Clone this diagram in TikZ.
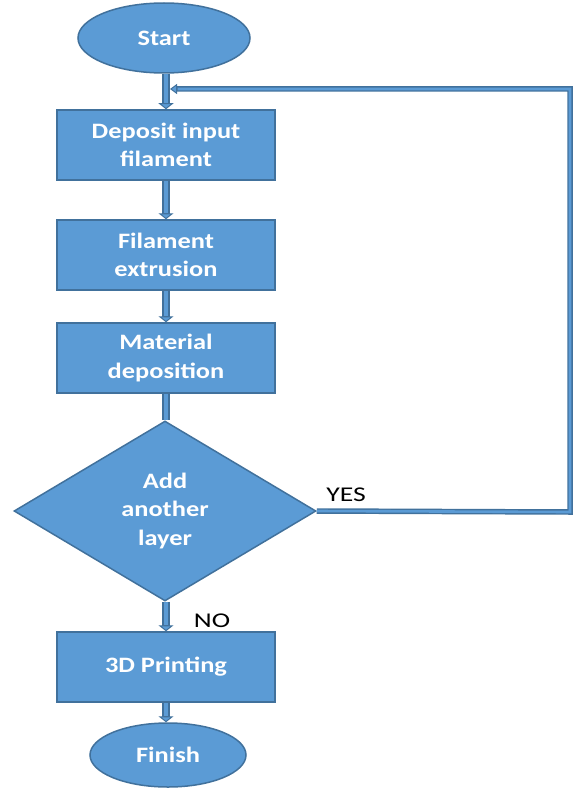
\documentclass[tikz,border=0pt]{standalone}
\usepackage{fontspec}
\newfontfamily\lblfont[FakeStretch=1.2]{Carlito}
\newfontfamily\sidefont[FakeStretch=1.32]{Carlito}
\usetikzlibrary{shapes.geometric,arrows.meta}
\definecolor{fillblue}{HTML}{5B9BD5}
\definecolor{edgeblue}{HTML}{41719C}
\tikzset{
  shapebox/.style={draw=edgeblue, line width=1.5pt, fill=fillblue, text=white, align=center, inner sep=0pt,
    font={\lblfont\bfseries\fontsize{22}{28.5}\selectfont}},
  procbox/.style={shapebox, rectangle, minimum width=218pt, minimum height=70pt},
  termbox/.style={shapebox, ellipse},
  decbox/.style={shapebox, diamond, minimum width=302pt, minimum height=180pt},
  vconn/.style={draw=edgeblue, line width=8pt,
    -{Triangle[length=6pt,width=15pt,line width=1pt,fill=fillblue]},
    postaction={draw=fillblue, line width=4.5pt, -, shorten >=6.5pt}},
  vconnplain/.style={draw=edgeblue, line width=8pt,
    postaction={draw=fillblue, line width=4.5pt}},
  hconn/.style={draw=edgeblue, line width=5.5pt, line join=miter,
    -{Triangle[length=7pt,width=10pt,line width=1pt,fill=fillblue]},
    postaction={draw=fillblue, line width=2.6pt, -, shorten >=7.5pt}},
  plainlbl/.style={text=black, inner sep=0pt, font={\sidefont\fontsize{21}{28}\selectfont}}
}
\begin{document}
\begin{tikzpicture}[x=1pt,y=-1pt]
\useasboundingbox (0,0) rectangle (573,789);
\node[termbox, minimum width=172pt, minimum height=70pt] (start) at (164,38) {Start};
\node[procbox] (dep) at (166,145) {Deposit input\\filament};
\node[procbox] (fil) at (166,255) {Filament\\extrusion};
\node[procbox] (mat) at (166,358) {Material\\deposition};
\node[decbox] (dia) at (165,511) {Add\\another\\layer};
\node[procbox] (print) at (166,667) {3D Printing};
\node[termbox, minimum width=156pt, minimum height=64pt] (finish) at (168,755) {Finish};
\coordinate (rb) at (570,512);
\coordinate (rt) at (570,89);
\coordinate (join) at (170,89);
\draw[hconn] (dia.east) -- (rb) -- (rt) -- (join);
\draw[vconn] (dep.north |- start.south) -- (dep.north);
\draw[vconn] (dep.south) -- (fil.north);
\draw[vconn] (fil.south) -- (mat.north);
\draw[vconnplain] (mat.south) -- (mat.south |- dia.north);
\draw[vconn] (print.north |- dia.south) -- (print.north);
\draw[vconn] (print.south) -- (print.south |- finish.north);
\node[plainlbl] (yes) at (346,495) {YES};
\node[plainlbl] (no) at (212,621) {NO};
\end{tikzpicture}
\end{document}
